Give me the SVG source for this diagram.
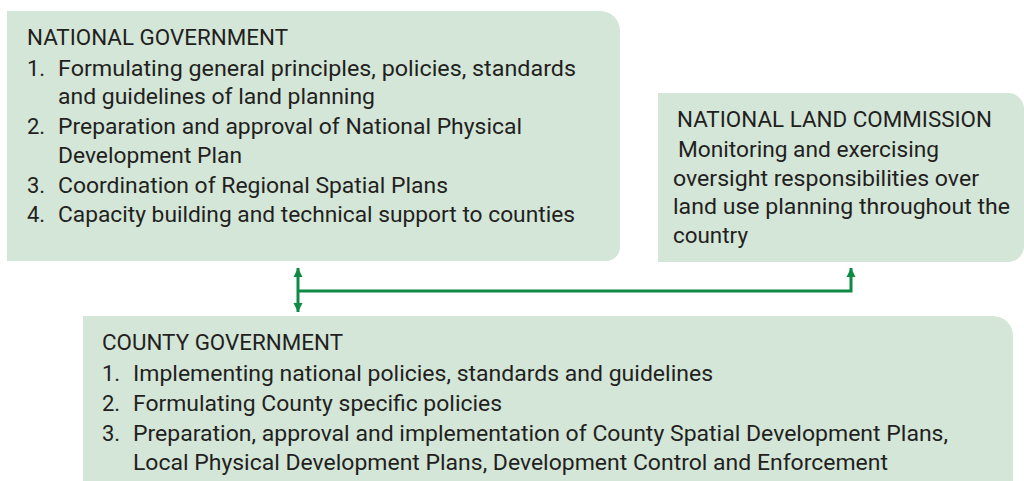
<svg xmlns="http://www.w3.org/2000/svg" width="1024" height="481" viewBox="0 0 1024 481">
<style>
.box{fill:#d3e6d8}
.t{font-family:Roboto,"Liberation Sans",sans-serif;font-size:22px;fill:#231f20}
.c{fill:none;stroke:#0f8a44;stroke-width:3}
</style>
<defs>
<marker id="ah" markerUnits="userSpaceOnUse" markerWidth="10" markerHeight="10" refX="9" refY="5" orient="auto-start-reverse" viewBox="0 0 10 10">
<path d="M0,0.5 L9,5 L0,9.5 Z" fill="#0f8a44"/>
</marker>
</defs>
<rect width="1024" height="481" fill="#ffffff"/>
<g id="national-government">
<path class="box" d="M7,11 H600 A20,20 0 0 1 620,31 V247 A14,14 0 0 1 606,261 H7 Z"/>
<text class="t" x="27" y="45" textLength="261" lengthAdjust="spacingAndGlyphs">NATIONAL GOVERNMENT</text>
<text class="t" x="27" y="76">1.</text>
<text class="t" x="58" y="76" textLength="518" lengthAdjust="spacingAndGlyphs">Formulating general principles, policies, standards</text>
<text class="t" x="58" y="104" textLength="317" lengthAdjust="spacingAndGlyphs">and guidelines of land planning</text>
<text class="t" x="27" y="134">2.</text>
<text class="t" x="58" y="134" textLength="464" lengthAdjust="spacingAndGlyphs">Preparation and approval of National Physical</text>
<text class="t" x="58" y="163" textLength="184" lengthAdjust="spacingAndGlyphs">Development Plan</text>
<text class="t" x="27" y="193">3.</text>
<text class="t" x="58" y="193" textLength="390" lengthAdjust="spacingAndGlyphs">Coordination of Regional Spatial Plans</text>
<text class="t" x="27" y="222">4.</text>
<text class="t" x="58" y="222" textLength="517" lengthAdjust="spacingAndGlyphs">Capacity building and technical support to counties</text>
</g>
<g id="national-land-commission">
<path class="box" d="M658,93 H1008 A16,16 0 0 1 1024,109 V246 A16,16 0 0 1 1008,262 H658 Z"/>
<text class="t" x="677" y="127" textLength="315" lengthAdjust="spacingAndGlyphs">NATIONAL LAND COMMISSION</text>
<text class="t" x="678" y="157" textLength="261" lengthAdjust="spacingAndGlyphs">Monitoring and exercising</text>
<text class="t" x="673" y="186" textLength="306" lengthAdjust="spacingAndGlyphs">oversight responsibilities over</text>
<text class="t" x="673" y="214" textLength="337" lengthAdjust="spacingAndGlyphs">land use planning throughout the</text>
<text class="t" x="673" y="243" textLength="75" lengthAdjust="spacingAndGlyphs">country</text>
</g>
<g id="county-government">
<path class="box" d="M83,316 H993 A20,20 0 0 1 1013,336 V481 H83 Z"/>
<text class="t" x="102" y="350" textLength="241" lengthAdjust="spacingAndGlyphs">COUNTY GOVERNMENT</text>
<text class="t" x="102" y="381">1.</text>
<text class="t" x="133" y="381" textLength="580" lengthAdjust="spacingAndGlyphs">Implementing national policies, standards and guidelines</text>
<text class="t" x="102" y="411">2.</text>
<text class="t" x="133" y="411" textLength="369" lengthAdjust="spacingAndGlyphs">Formulating County specific policies</text>
<text class="t" x="102" y="441">3.</text>
<text class="t" x="133" y="441" textLength="815" lengthAdjust="spacingAndGlyphs">Preparation, approval and implementation of County Spatial Development Plans,</text>
<text class="t" x="133" y="470" textLength="755" lengthAdjust="spacingAndGlyphs">Local Physical Development Plans, Development Control and Enforcement</text>
</g>
<g id="connectors">
<path class="c" d="M298,268 V312" marker-start="url(#ah)" marker-end="url(#ah)"/>
<path class="c" d="M298,291 H851 V268" marker-end="url(#ah)"/>
</g>
</svg>
